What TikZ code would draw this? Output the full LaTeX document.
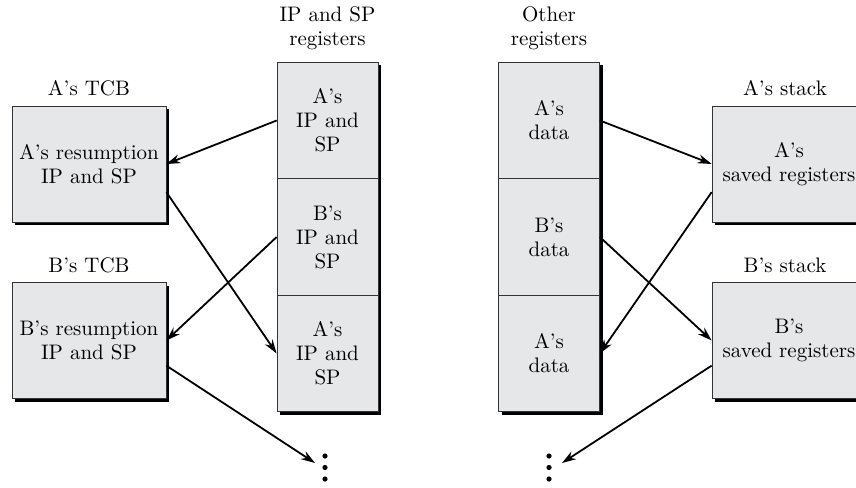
\documentclass[tikz,border=0pt]{standalone}
\usepackage{fontspec}
\setmainfont{lmroman10-regular}[Extension=.otf, Ligatures=TeX]
\usepackage{tikz}
\usetikzlibrary{arrows.meta,shadows}
\definecolor{boxgray}{RGB}{230,231,232}
\tikzset{
  font={\fontsize{21pt}{24pt}\selectfont}}

\begin{document}
\begin{tikzpicture}[x=1pt,y=1pt]
\tikzstyle{every node}+=[inner sep=0pt]
\tikzstyle{box}=[draw=black!80, line width=0.7pt, fill=boxgray, align=center, drop shadow={shadow xshift=3pt, shadow yshift=-3pt, fill=black, opacity=1}]
\tikzstyle{tcb}=[box, minimum width=154, minimum height=116]
\tikzstyle{cell}=[box, minimum width=101, minimum height=116.5]
\tikzstyle{head}=[align=center]
\tikzstyle{link}=[line width=1.8pt, -{Stealth[length=14pt,width=9pt,inset=4.5pt]}]
\useasboundingbox (0,0) rectangle (856,-487);
% thread control blocks
\node[head] (tcbAlbl) at (89,-88) {A's TCB};
\node[tcb] (tcbA) at (89,-164) {A's resumption\\IP and SP};
\node[head] (tcbBlbl) at (89,-265) {B's TCB};
\node[tcb] (tcbB) at (89,-340.5) {B's resumption\\IP and SP};
% IP and SP registers
\node[head] (iplbl) at (327.5,-28) {IP and SP\\registers};
\node[cell] (ipA) at (327.5,-120.5) {A's\\IP and\\SP};
\node[cell] (ipB) at (327.5,-237) {B's\\IP and\\SP};
\node[cell] (ipC) at (327.5,-353.5) {A's\\IP and\\SP};
% other registers
\node[head] (datlbl) at (549,-28) {Other\\registers};
\node[cell] (datA) at (549,-120.5) {A's\\data};
\node[cell] (datB) at (549,-237) {B's\\data};
\node[cell] (datC) at (549,-353.5) {A's\\data};
% stacks
\node[head] (stkAlbl) at (785,-88) {A's stack};
\node[tcb] (stkA) at (789,-164) {A's\\saved registers};
\node[head] (stkBlbl) at (785,-265) {B's stack};
\node[tcb] (stkB) at (789,-340.5) {B's\\saved registers};
% more
\node (moreL) at (325,-467.5) {};
\node (moreR) at (549,-467.5) {};
\foreach \d in {11.5,0,-11.5} {
  \fill ([yshift=\d]moreL) circle (2.6);
  \fill ([yshift=\d]moreR) circle (2.6);
}
\coordinate (endL) at (315,-463);
\coordinate (endR) at (562,-463);
% switching
\draw[link] (ipA.west) -- (tcbA.east);
\draw[link] (tcbA.-20) -- (ipC.west);
\draw[link] (ipB.west) -- (tcbB.east);
\draw[link] (tcbB.-18) -- (endL);
\draw[link] (datA.east) -- (stkA.west);
\draw[link] (datB.east) -- (stkB.west);
\draw[link] (stkA.200) -- (datC.east);
\draw[link] (stkB.198) -- (endR);
\end{tikzpicture}
\end{document}
